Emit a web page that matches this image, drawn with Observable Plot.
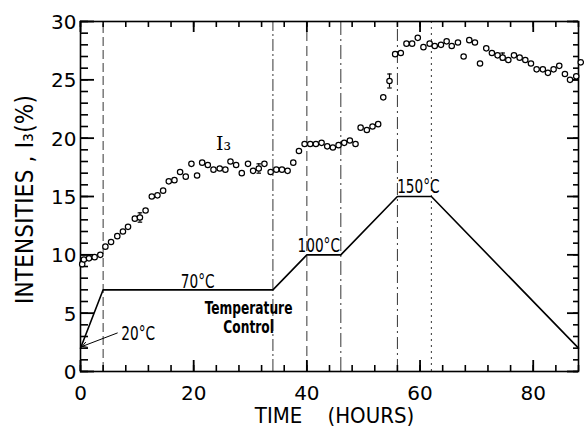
<!DOCTYPE html>
<html><head><meta charset="utf-8">
<script src="https://cdn.jsdelivr.net/npm/d3@7"></script>
<script src="https://cdn.jsdelivr.net/npm/@observablehq/plot@0.6"></script>
<style>body{margin:0;background:#fff} #chart{width:584px;height:426px}</style>
</head><body><div id="chart"></div>
<script>
// I3 intensity measurements
const hours = [0.3,0.6,1.5,2.5,3.5,4.4,5.4,6.5,7.5,8.4,9.6,10.5,11.5,12.6,13.6,14.6,15.6,16.6,17.6,18.6,19.6,20.6,21.5,22.5,23.5,24.6,25.6,26.5,27.5,28.5,29.6,30.5,31.5,32.5,33.6,34.6,35.6,36.6,37.6,38.6,39.6,40.6,41.6,42.6,43.6,44.6,45.6,46.6,47.6,48.6,49.5,50.6,51.6,52.6,53.5,54.6,55.6,56.6,57.6,58.6,59.6,60.6,61.7,62.6,63.7,64.7,65.6,66.7,67.7,68.7,69.7,70.6,71.7,72.7,73.7,74.6,75.6,76.6,77.6,78.6,79.6,80.6,81.7,82.6,83.6,84.6,85.6,86.5,87.6,88.4];
const intensity = [9.2,9.6,9.7,9.8,10.0,10.7,11.1,11.6,12.0,12.4,13.1,13.2,13.8,15.0,15.1,15.5,16.3,16.4,17.1,16.7,17.8,16.8,17.9,17.7,17.3,17.4,17.3,18.0,17.7,17.0,17.8,17.2,17.4,17.8,17.1,17.3,17.3,17.2,17.9,18.9,19.5,19.5,19.5,19.6,19.3,19.2,19.4,19.6,19.8,19.5,20.9,20.7,21.0,21.2,23.5,24.9,27.2,27.3,28.1,28.1,28.6,27.8,28.1,27.9,28.0,28.3,27.9,28.2,27.0,28.4,28.2,26.4,27.7,27.3,27.1,26.9,26.7,27.1,26.9,26.7,26.4,25.9,25.9,25.6,25.9,26.2,25.5,25.0,25.3,26.5];
// error bars
const errHours = [10.5,31.5,54.6,74.6];
const errLow = [12.8,17.0,24.3,26.7];
const errHigh = [13.6,17.8,25.5,27.3];
// temperature control profile
const tempHours = [0,4,34,40,46,56,62,88];
const tempLevel = [2,7,7,10,10,15,15,2];
// vertical marker lines at program changes
const markerHours = [4,34,40,46,56,62];
const markerDash = ["9,4","12,3,2,3","10,5","14,4,2,4","12,4,2,4","2,4"];
// ticks
const xMajor = [0,20,40,60,80];
const xMinor = [0,4,8,12,16,20,24,28,32,36,40,44,48,52,56,60,64,68,72,76,80,84,88];
const yMajor = [0,5,10,15,20,25,30];
const yMinor = [0,1,2,3,4,5,6,7,8,9,10,11,12,13,14,15,16,17,18,19,20,21,22,23,24,25,26,27,28,29,30];

const points = hours.map((t,i)=>({t, v:intensity[i]}));
const errs = errHours.map((t,i)=>({t, lo:errLow[i], hi:errHigh[i]}));
const temp = tempHours.map((t,i)=>({t, v:tempLevel[i]}));
const markers = markerHours.map((t,i)=>({t, dash:markerDash[i]}));

const W = 584, H = 426, ML = 80, MR = 6, MT = 21, MB = 55;
const FW = W - ML - MR, FH = H - MT - MB;
const narrow = "'DejaVu Sans Condensed',sans-serif";
const tickFont = "'DejaVu Sans',sans-serif";
// inward tick marks drawn as rules trimmed by insets
const bottomTicks = (vals, len, sw) => Plot.ruleX(vals, {x:d=>d, insetTop:FH-len, stroke:"#000", strokeWidth:sw});
const topTicks = (vals, len, sw) => Plot.ruleX(vals, {x:d=>d, insetBottom:FH-len, stroke:"#000", strokeWidth:sw});
const leftTicks = (vals, len, sw) => Plot.ruleY(vals, {y:d=>d, insetRight:FW-len, stroke:"#000", strokeWidth:sw});
const rightTicks = (vals, len, sw) => Plot.ruleY(vals, {y:d=>d, insetLeft:FW-len, stroke:"#000", strokeWidth:sw});

const chart = Plot.plot({
  width:W, height:H,
  marginLeft:ML, marginRight:MR, marginTop:MT, marginBottom:MB,
  x:{domain:[0,88], axis:null},
  y:{domain:[0,30], axis:null},
  style:{background:"#fff", color:"#000", overflow:"visible"},
  marks:[
    ...markers.map(m => Plot.ruleX([m], {x:"t", y1:0, y2:30, stroke:"#000", strokeWidth:0.8, strokeDasharray:m.dash})),
    Plot.frame({stroke:"#000", strokeWidth:1.6}),
    bottomTicks(xMinor, 6, 1.6),
    bottomTicks(xMajor, 11, 1.8),
    topTicks(xMinor, 6, 1.6),
    topTicks(xMajor, 11, 1.8),
    leftTicks(yMinor, 8, 1.6),
    leftTicks(yMajor, 14, 1.8),
    rightTicks(yMinor, 5, 1.6),
    rightTicks(yMajor, 11, 1.8),
    // tick labels
    Plot.axisX(xMajor, {anchor:"bottom", tickSize:0, tickPadding:14, label:null, fontSize:20, fontFamily:tickFont}),
    Plot.axisY(yMajor, {anchor:"left", tickSize:0, tickPadding:4, label:null, fontSize:20, fontFamily:tickFont, dy:1}),
    // temperature profile
    Plot.line(temp, {x:"t", y:"v", stroke:"#000", strokeWidth:1.6}),
    // error bars
    Plot.ruleX(errs, {x:"t", y1:"lo", y2:"hi", stroke:"#000", strokeWidth:1.2}),
    Plot.link(errs, {x1:d=>d.t-0.4, x2:d=>d.t+0.4, y1:"lo", y2:"lo", stroke:"#000", strokeWidth:1.2}),
    Plot.link(errs, {x1:d=>d.t-0.4, x2:d=>d.t+0.4, y1:"hi", y2:"hi", stroke:"#000", strokeWidth:1.2}),
    // data points
    Plot.dot(points, {x:"t", y:"v", r:2.7, stroke:"#000", strokeWidth:1.2, fill:"#fff"}),
    // annotations
    Plot.text(["I₃"], {x:25.3, y:19.5, text:d=>d, fontSize:19, fontFamily:"'DejaVu Serif',serif"}),
    Plot.text(["70°C"], {x:20.7, y:7.65, text:d=>d, fontSize:19, fontFamily:narrow}),
    Plot.text(["100°C"], {x:42.1, y:10.75, text:d=>d, fontSize:19, fontFamily:narrow}),
    Plot.text(["150°C"], {x:59.7, y:15.8, text:d=>d, fontSize:19, fontFamily:narrow}),
    Plot.text(["20°C"], {x:10.2, y:3.25, text:d=>d, fontSize:19, fontFamily:narrow}),
    Plot.text(["Temperature"], {x:29.7, y:5.4, text:d=>d, fontSize:17, fontWeight:"bold", fontFamily:narrow}),
    Plot.text(["Control"], {x:29.7, y:3.8, text:d=>d, fontSize:17, fontWeight:"bold", fontFamily:narrow}),
    Plot.arrow([{x1:6.5, y1:3.3, x2:0.3, y2:2.15}], {x1:"x1", y1:"y1", x2:"x2", y2:"y2", stroke:"#000", strokeWidth:1, headLength:8}),
    // axis titles
    Plot.text(["INTENSITIES , I₃(%)"], {frameAnchor:"left", dx:-55, dy:3, rotate:-90, textAnchor:"middle", lineAnchor:"middle", text:d=>d, fontSize:24, fontFamily:narrow}),
    Plot.text(["TIME\u00a0\u00a0\u00a0\u00a0(HOURS)"], {frameAnchor:"bottom", dx:5, dy:44, textAnchor:"middle", lineAnchor:"middle", text:d=>d, fontSize:22, fontFamily:narrow})
  ]
});
document.getElementById("chart").appendChild(chart);
const squeezed = ["70°C","100°C","150°C","20°C","Temperature","Control"];
d3.select(chart).selectAll("text").each(function(){
  const t = this.textContent;
  if (squeezed.includes(t)) {
    const tr = this.getAttribute("transform");
    if (tr) this.setAttribute("transform", tr + " scale(0.8,1)");
    else {
      const x = +this.getAttribute("x") || 0;
      this.setAttribute("transform", `translate(${x},0) scale(0.8,1) translate(${-x},0)`);
    }
  }
  if (t.startsWith("INTENSITIES")) this.setAttribute("letter-spacing","0.2");
});
</script>
</body></html>
